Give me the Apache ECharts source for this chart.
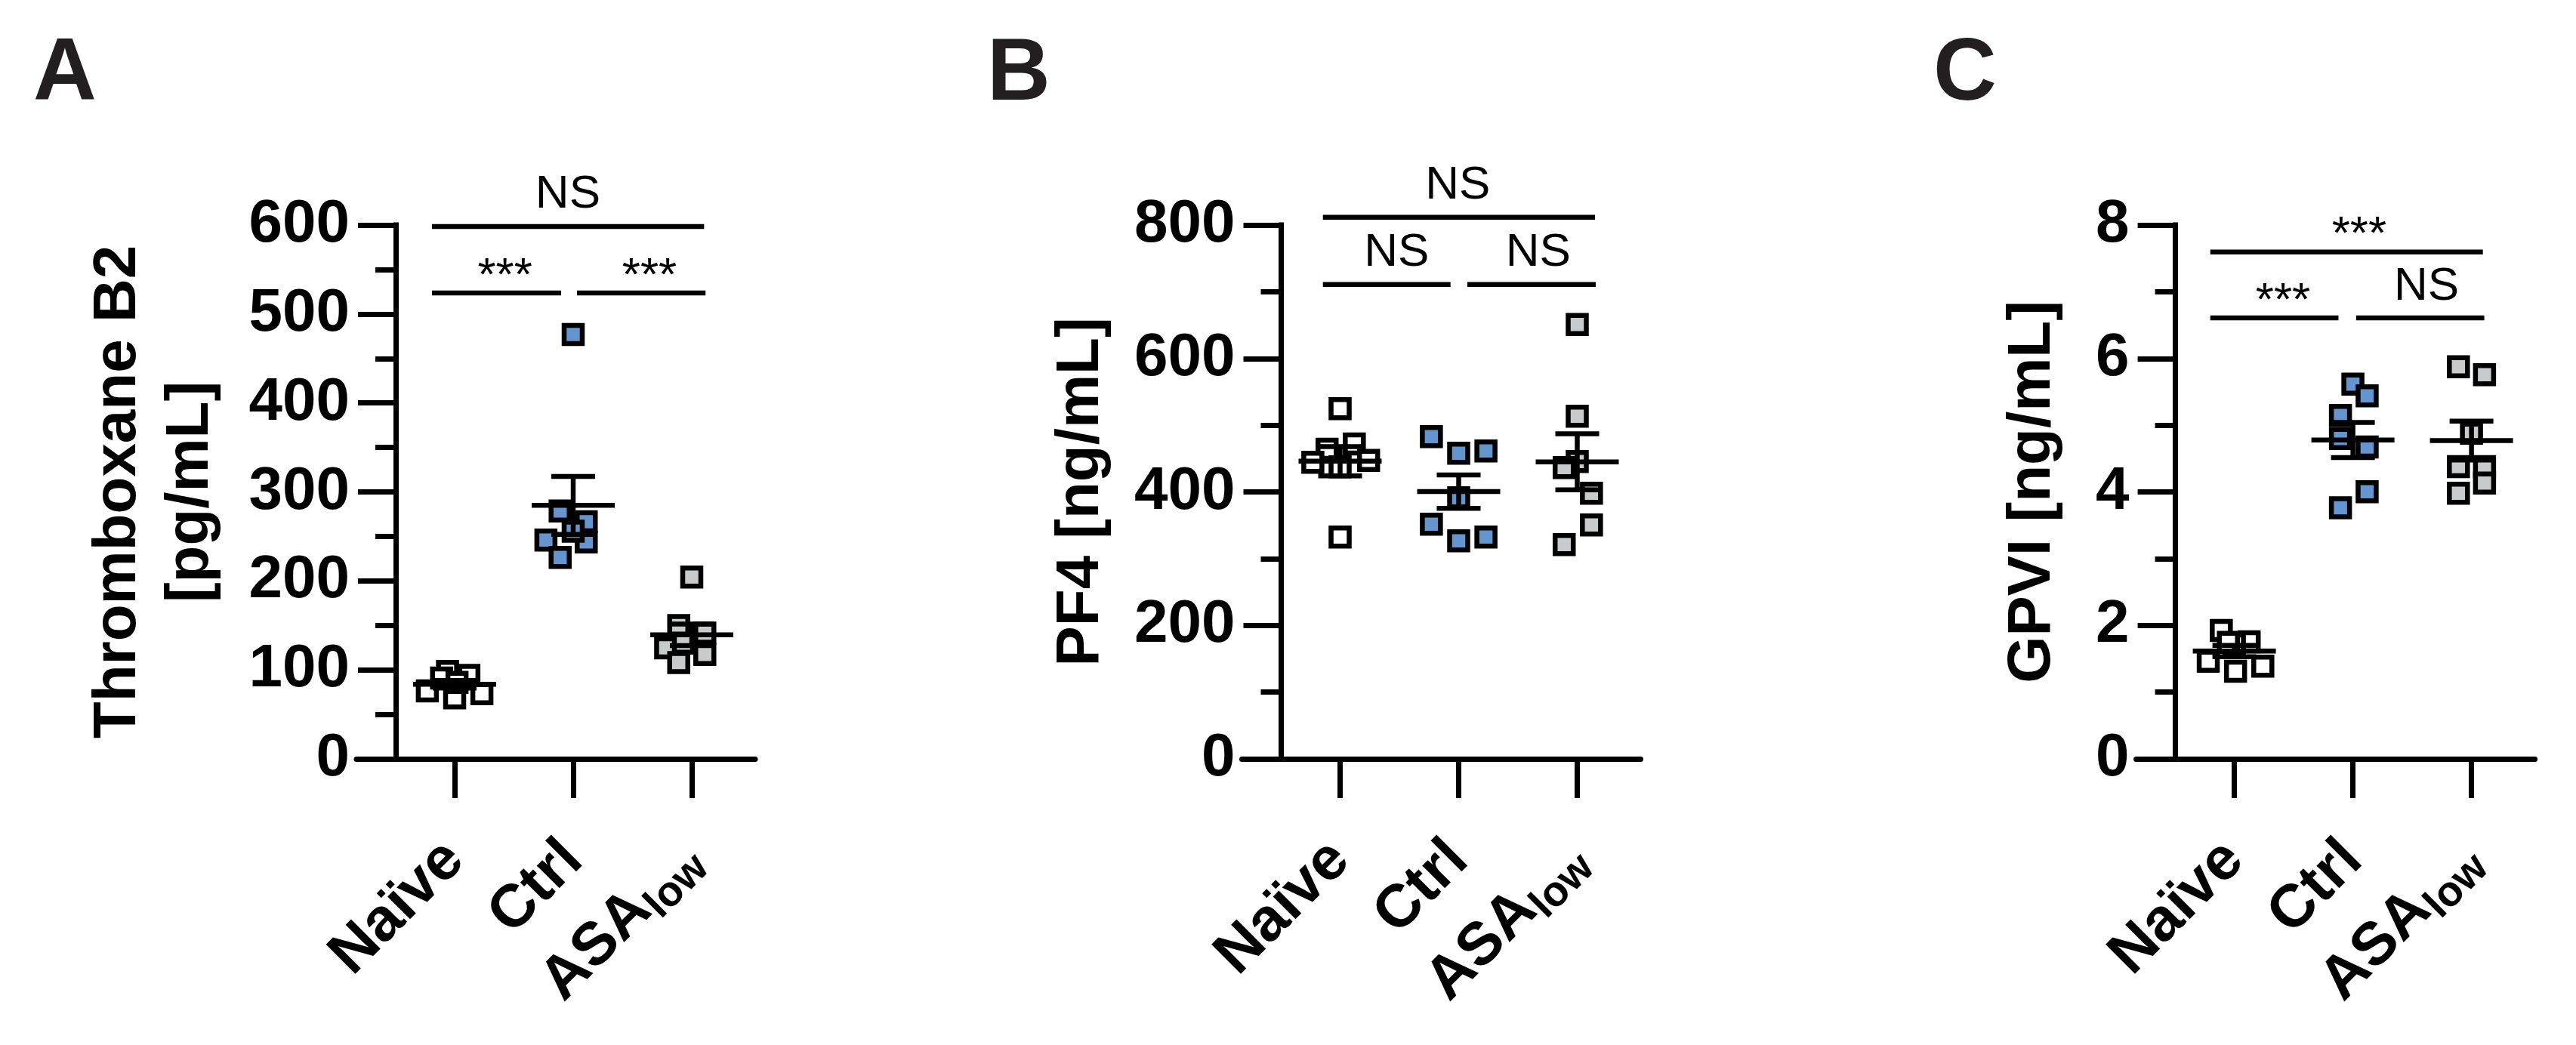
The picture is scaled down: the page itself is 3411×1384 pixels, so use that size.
<!DOCTYPE html>
<html>
<head>
<meta charset="utf-8">
<script src="https://cdn.jsdelivr.net/npm/echarts@6/dist/echarts.min.js"></script>
<style>
html,body{margin:0;padding:0;background:#ffffff;}
#chart{width:3411px;height:1384px;}
</style>
</head>
<body>
<div id="chart"></div>
<script>
// ---------------- DATA ----------------
const categories = ['Naïve', 'Ctrl', 'ASA_low'];

// Panel A: Thromboxane B2 [pg/mL]
const txb2Naive = [76.4, 68.5, 73.3, 98.2, 90.8, 93.7, 86];
const txb2Ctrl  = [477, 278.5, 266.5, 243.7, 246, 226.4, 255.8];
const txb2Asa   = [204.3, 149.7, 141.2, 117.3, 124.8, 108.2, 130];
const txb2NaiveJitter = [-0.23, 0, 0.23, -0.06, -0.11, 0.12, 0.02];
const txb2CtrlJitter  = [0, -0.11, 0.11, 0.11, -0.23, -0.11, 0];
const txb2AsaJitter   = [0, -0.11, 0.11, 0.11, -0.22, -0.11, -0.07];
const txb2Ticks = [0, 100, 200, 300, 400, 500, 600];
// brackets: [from, to, level, text position, label]
const txb2Sig = [
  [0.809, 3.104, 598.4, 1.955, 'NS'],
  [0.809, 1.898, 523.6, 1.424, '***'],
  [2.032, 3.116, 523.6, 2.643, '***']
];

// Panel B: PF4 [ng/mL]
const pf4Naive = [524.7, 332.3, 463.9, 471.8, 444.3, 447.3, 437.5];
const pf4Ctrl  = [482.8, 457.9, 461.3, 391.2, 351.6, 326.7, 332.3];
const pf4Asa   = [651, 513.4, 445.5, 436.4, 398, 350.4, 321];
const pf4NaiveJitter = [0, 0, -0.11, 0.12, -0.23, 0.24, 0];
const pf4CtrlJitter  = [-0.23, 0, 0.23, 0, -0.23, 0, 0.23];
const pf4AsaJitter   = [0, 0, 0, -0.11, 0.12, 0.12, -0.11];
const pf4Ticks = [0, 200, 400, 600, 800];
const pf4Sig = [
  [0.855, 3.150, 811.5, 1.992, 'NS'],
  [0.855, 1.931, 710.8, 1.476, 'NS'],
  [2.073, 3.156, 710.8, 2.670, 'NS']
];

// Panel C: GPVI [ng/mL]
const gpviNaive = [1.924, 1.754, 1.463, 1.313, 1.388, 1.72, 1.745];
const gpviCtrl  = [5.615, 5.44, 5.147, 4.8, 4.673, 4.003, 3.763];
const gpviAsa   = [5.875, 5.757, 4.88, 4.38, 4.38, 4.134, 3.979];
const gpviNaiveJitter = [-0.11, 0.125, -0.22, 0.01, 0.24, 0, -0.05];
const gpviCtrlJitter  = [0, 0.12, -0.105, -0.105, 0.12, 0.12, -0.105];
const gpviAsaJitter   = [-0.11, 0.11, 0, -0.11, 0.11, 0.11, -0.11];
const gpviTicks = [0, 2, 4, 6, 8];
const gpviSig = [
  [0.797, 3.096, 7.596, 2.053, '***'],
  [0.797, 1.878, 6.608, 1.410, '***'],
  [2.027, 3.108, 6.608, 2.620, 'NS']
];

// ---------------- STYLE / LAYOUT ----------------
const FONT = '"Liberation Sans", Arial, Helvetica, sans-serif';
const groupFill = ['#ffffff', '#6495CE', '#C8CBCC'];
const CAT_STEP = 157;          // px between categories
const LEFT_PAD = 130;          // px from axis start to first category
const RIGHT_PAD = 84;          // px from last category to axis end
const GRID_TOP = 298, GRID_H = 707;

const panels = [
  { letter: 'A', letterLeft: 44, cat1: 602,
    groups: [[txb2Naive, txb2NaiveJitter], [txb2Ctrl, txb2CtrlJitter], [txb2Asa, txb2AsaJitter]],
    ticks: txb2Ticks, sig: txb2Sig,
    name: 'Thromboxane B2\n[pg/mL]', nameGap: 223 },
  { letter: 'B', letterLeft: 1307, cat1: 1774.5,
    groups: [[pf4Naive, pf4NaiveJitter], [pf4Ctrl, pf4CtrlJitter], [pf4Asa, pf4AsaJitter]],
    ticks: pf4Ticks, sig: pf4Sig,
    name: 'PF4 [ng/mL]', nameGap: 217 },
  { letter: 'C', letterLeft: 2560, cat1: 2958.6,
    groups: [[gpviNaive, gpviNaiveJitter], [gpviCtrl, gpviCtrlJitter], [gpviAsa, gpviAsaJitter]],
    ticks: gpviTicks, sig: gpviSig,
    name: 'GPVI [ng/mL]', nameGap: 141 }
];

function meanSem(arr) {
  const n = arr.length;
  const m = arr.reduce((a, b) => a + b, 0) / n;
  const v = arr.reduce((a, b) => a + (b - m) * (b - m), 0) / (n - 1);
  return [m, Math.sqrt(v / n)];
}

function renderErr(params, api) {
  const x = api.value(0), m = api.value(1), s = api.value(2);
  const pm = api.coord([x, m]);
  const pu = api.coord([x, m + s]);
  const pl = api.coord([x, m - s]);
  const st = { stroke: '#000', lineWidth: 6.5, fill: null };
  return { type: 'group', children: [
    { type: 'line', shape: { x1: pm[0] - 55, y1: pm[1], x2: pm[0] + 55, y2: pm[1] }, style: st },
    { type: 'line', shape: { x1: pu[0], y1: pu[1], x2: pl[0], y2: pl[1] }, style: st },
    { type: 'line', shape: { x1: pu[0] - 29, y1: pu[1], x2: pu[0] + 29, y2: pu[1] }, style: st },
    { type: 'line', shape: { x1: pl[0] - 29, y1: pl[1], x2: pl[0] + 29, y2: pl[1] }, style: st }
  ]};
}

function makeSigRenderer(sig) {
  return function (params, api) {
    const row = sig[params.dataIndex];
    const p1 = api.coord([row[0], row[2]]);
    const p2 = api.coord([row[1], row[2]]);
    const pt = api.coord([row[3], row[2]]);
    const isStar = row[4].indexOf('*') >= 0;
    const off = isStar ? 21.5 : 41.5;
    return { type: 'group', children: [
      { type: 'line', shape: { x1: p1[0], y1: p1[1], x2: p2[0], y2: p2[1] },
        style: { stroke: '#000', lineWidth: 6.5 } },
      { type: 'text', x: pt[0], y: pt[1] - off,
        style: { text: row[4], fill: '#000', font: '62px ' + FONT, align: 'center', verticalAlign: 'middle' } }
    ]};
  };
}

const grids = [], xAxes = [], yAxes = [], series = [], titles = [];

panels.forEach((p, i) => {
  grids.push({ left: p.cat1 - LEFT_PAD, top: GRID_TOP,
               width: LEFT_PAD + 2 * CAT_STEP + RIGHT_PAD, height: GRID_H });
  titles.push({ text: p.letter, left: p.letterLeft, top: 42.5, padding: 0,
    textStyle: { fontSize: 116, fontWeight: 'bold', color: '#231F20', fontFamily: FONT } });
  xAxes.push({
    gridIndex: i, type: 'value',
    min: 1 - LEFT_PAD / CAT_STEP, max: 3 + RIGHT_PAD / CAT_STEP,
    axisLine: { show: true, onZero: false, lineStyle: { color: '#000', width: 7 } },
    axisTick: { show: true, customValues: [1, 2, 3], length: 52, lineStyle: { color: '#000', width: 7 } },
    axisLabel: {
      customValues: [1, 2, 3], rotate: 45, margin: 122, color: '#000',
      formatter: function (v) {
        const c = categories[Math.round(v) - 1];
        if (c === 'ASA_low') return '{m|ASA}{s|low}';
        return '{m|' + c + '}';
      },
      rich: {
        m: { fontSize: 80, fontWeight: 'bold', fontFamily: FONT, color: '#000', lineHeight: 96 },
        s: { fontSize: 56, fontWeight: 'bold', fontFamily: FONT, color: '#000', verticalAlign: 'bottom', padding: [30, 0, 0, 0] }
      }
    },
    splitLine: { show: false }
  });
  const tk = p.ticks;
  yAxes.push({
    gridIndex: i, type: 'value', min: tk[0], max: tk[tk.length - 1], interval: tk[1] - tk[0],
    offset: -(LEFT_PAD - 78),
    axisLine: { show: true, onZero: false, lineStyle: { color: '#000', width: 7, cap: 'square' } },
    axisTick: { show: true, length: 50, lineStyle: { color: '#000', width: 7 } },
    minorTick: { show: true, splitNumber: 2, length: 27, lineStyle: { color: '#000', width: 7 } },
    axisLabel: { fontSize: 80, fontWeight: 'bold', fontFamily: FONT, color: '#000', margin: 61, padding: [21, 0, 0, 0] },
    splitLine: { show: false },
    name: p.name, nameLocation: 'middle', nameGap: p.nameGap,
    nameTextStyle: { fontSize: 80, fontWeight: 'bold', fontFamily: FONT, color: '#000', lineHeight: 96 }
  });
  p.groups.forEach((g, gi) => {
    const vals = g[0], jit = g[1];
    series.push({
      type: 'scatter', xAxisIndex: i, yAxisIndex: i, z: 2, silent: true,
      symbol: 'rect', symbolSize: 24,
      itemStyle: { color: groupFill[gi], borderColor: '#000', borderWidth: 6.5, opacity: 1 },
      data: vals.map((v, k) => [gi + 1 + jit[k], v])
    });
  });
  series.push({
    type: 'custom', xAxisIndex: i, yAxisIndex: i, z: 3, silent: true, clip: false,
    renderItem: renderErr,
    data: p.groups.map((g, gi) => { const ms = meanSem(g[0]); return [gi + 1, ms[0], ms[1]]; })
  });
  series.push({
    type: 'custom', xAxisIndex: i, yAxisIndex: i, z: 3, silent: true, clip: false,
    renderItem: makeSigRenderer(p.sig),
    data: p.sig.map(r => [r[0], r[1], r[2], r[3]])
  });
});

const chart = echarts.init(document.getElementById('chart'), null, { renderer: 'canvas' });
chart.setOption({
  animation: false,
  backgroundColor: '#ffffff',
  title: titles,
  grid: grids,
  xAxis: xAxes,
  yAxis: yAxes,
  series: series
});
</script>
</body>
</html>
